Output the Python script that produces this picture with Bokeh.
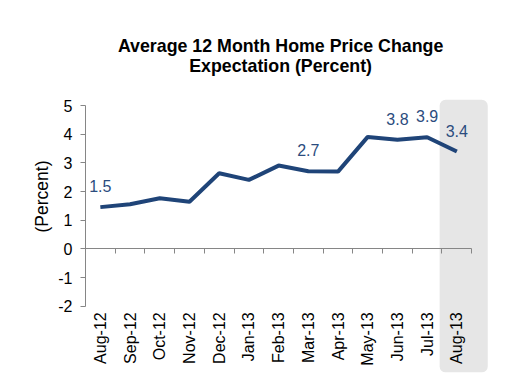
from math import pi
from bokeh.plotting import figure
from bokeh.models import (Range1d, LinearAxis, FixedTicker, BoxAnnotation,
                          LabelSet, Label, ColumnDataSource)
from bokeh.core.properties import value
from bokeh.embed import file_html
from bokeh.resources import INLINE

# ---- data ----
months = ["Aug-12", "Sep-12", "Oct-12", "Nov-12", "Dec-12", "Jan-13", "Feb-13",
          "Mar-13", "Apr-13", "May-13", "Jun-13", "Jul-13", "Aug-13"]
values = [1.46, 1.56, 1.77, 1.65, 2.64, 2.41, 2.91, 2.71, 2.70, 3.91, 3.81, 3.90, 3.40]
labeled_months = ["Aug-12", "Mar-13", "Jun-13", "Jul-13", "Aug-13"]
y_ticks = [-2, -1, 0, 1, 2, 3, 4, 5]
highlight_month = "Aug-13"
title_lines = ["Average 12 Month Home Price Change", "Expectation (Percent)"]
y_label = "(Percent)"

# ---- style ----
FONT = "Liberation Sans"
LINE = "#1f4478"
LABEL = "#2b4c7e"
AXIS = "#868686"
HILITE = "#e6e6e6"

n = len(months)
xs = [i + 0.5 for i in range(n)]

p = figure(width=510, height=379,
           x_range=Range1d(0, 13.70), y_range=Range1d(-4.31, 7.972),
           x_axis_type=None, y_axis_type=None, title=None,
           output_backend="svg", toolbar_location=None,
           min_border_left=85, min_border_right=18,
           min_border_bottom=7, min_border_top=20)
p.outline_line_color = None
p.background_fill_color = "white"
p.border_fill_color = "white"

# highlight band for latest month
hi = months.index(highlight_month)
p.add_layout(BoxAnnotation(left=xs[hi] - 0.58, right=xs[hi] + 1.04,
                           top=max(y_ticks) + 0.21,
                           fill_color=HILITE, fill_alpha=1.0, line_color=None,
                           border_radius=6, level="underlay"))

# y axis
yaxis = LinearAxis(ticker=FixedTicker(ticks=y_ticks, minor_ticks=[]),
                   bounds=(min(y_ticks), max(y_ticks)),
                   major_label_overrides={t: str(t) for t in y_ticks},
                   axis_line_color=AXIS, major_tick_line_color=AXIS,
                   major_tick_out=5, major_tick_in=0,
                   minor_tick_line_color=None,
                   major_label_standoff=8,
                   major_label_text_font=FONT, major_label_text_font_size="16px",
                   major_label_text_color="black",
                   axis_label=y_label, axis_label_text_font=FONT,
                   axis_label_text_font_size="17.5px",
                   axis_label_text_font_style="normal",
                   axis_label_text_color="black", axis_label_standoff=3)
p.add_layout(yaxis, "left")

# zero line with category-boundary ticks
zaxis = LinearAxis(fixed_location=0,
                   ticker=FixedTicker(ticks=list(range(n + 1)), minor_ticks=[]),
                   bounds=(0, n),
                   axis_line_color=AXIS, major_tick_line_color=AXIS,
                   major_tick_out=5, major_tick_in=0,
                   minor_tick_line_color=None,
                   major_label_text_color=None)
p.add_layout(zaxis, "below")

# category labels below the -2 line
laxis = LinearAxis(fixed_location=min(y_ticks),
                   ticker=FixedTicker(ticks=xs, minor_ticks=[]),
                   major_label_overrides={x: m for x, m in zip(xs, months)},
                   axis_line_color=None, major_tick_line_color=None,
                   minor_tick_line_color=None,
                   major_tick_out=0, major_tick_in=0,
                   major_label_orientation=pi / 2,
                   major_label_standoff=6,
                   major_label_text_font=FONT, major_label_text_font_size="16px",
                   major_label_text_color="black")
p.add_layout(laxis, "below")

# line
p.line(xs, values, line_color=LINE, line_width=4)

# data labels
lx = [xs[months.index(m)] for m in labeled_months]
ly = [values[months.index(m)] for m in labeled_months]
lt = [f"{v:.1f}" for v in ly]
src = ColumnDataSource(dict(x=lx, y=ly, t=lt))
p.add_layout(LabelSet(x="x", y="y", text="t", source=src, y_offset=21,
                      text_align="center", text_baseline="middle",
                      text_font=value(FONT), text_font_size=value("16px"),
                      text_color=LABEL))

# two-line title, floated above the top of the value axis
for txt, off in zip(title_lines, [60, 40]):
    p.add_layout(Label(x=n / 2, y=max(y_ticks), x_offset=2, y_offset=off,
                       text=txt, text_align="center", text_baseline="middle",
                       text_font=FONT, text_font_size="17.8px",
                       text_font_style="bold", text_color="black"))

open("out.html", "w").write(file_html(p, INLINE))
